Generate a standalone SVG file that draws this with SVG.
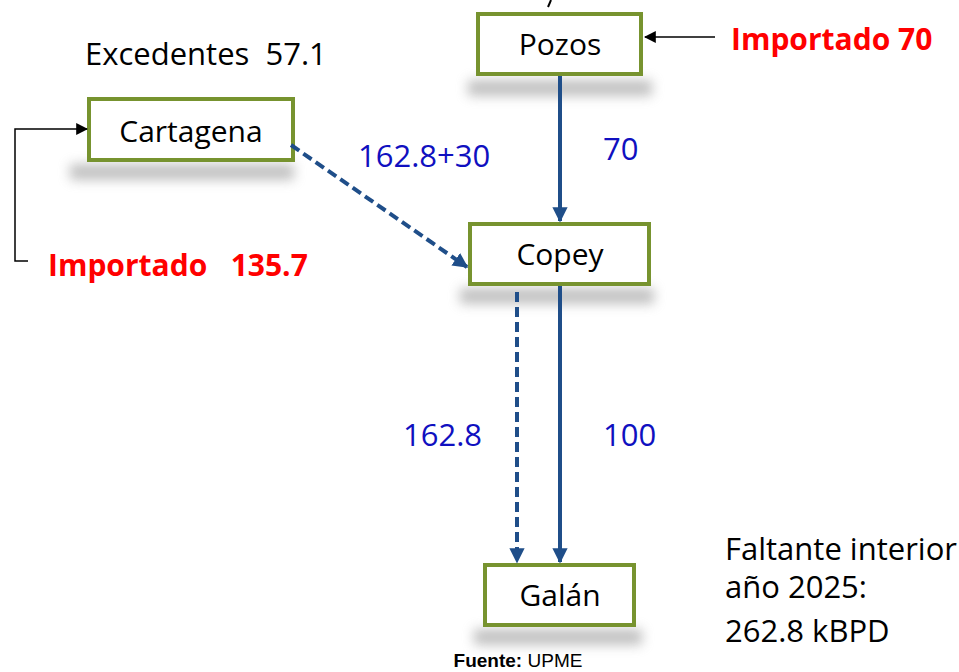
<svg xmlns="http://www.w3.org/2000/svg" width="959" height="672" viewBox="0 0 959 672">
<defs>
<filter id="sh" x="-30%" y="-100%" width="160%" height="300%"><feGaussianBlur stdDeviation="6"/></filter>
<marker id="ab" viewBox="0 0 10 10" refX="9" refY="5" markerWidth="3.8" markerHeight="4" orient="auto"><path d="M0,0 L10,5 L0,10 z" fill="#1F4E89"/></marker>
<marker id="ak" viewBox="0 0 10 10" refX="9" refY="5" markerWidth="8" markerHeight="8" orient="auto"><path d="M0,0 L10,5 L0,10 z" fill="#000"/></marker>
</defs>
<style>
.box{fill:#fff;stroke:#77932F;stroke-width:4}
.shd{fill:#999;opacity:0.6;filter:url(#sh)}
.lbl{font-family:"Open Sans","Liberation Sans",sans-serif;font-size:30px;fill:#000;text-anchor:middle}
.blue{font-family:"Open Sans","Liberation Sans",sans-serif;font-size:31px;fill:#1010C0}
.red{font-family:"Open Sans","Liberation Sans",sans-serif;font-size:30px;font-weight:bold;fill:#FF0000}
.blk{font-family:"Open Sans","Liberation Sans",sans-serif;font-size:31px;fill:#000}
.flow{stroke:#1F4E89;stroke-width:4;fill:none;marker-end:url(#ab)}
.dash{stroke-dasharray:10,5}
.imp{stroke:#000;stroke-width:1.5;fill:none;marker-end:url(#ak)}
</style>
<rect width="959" height="672" fill="#fff"/>
<path d="M551,0 L548,7" stroke="#000" stroke-width="2"/>
<g id="pozos"><rect class="shd" x="468" y="80" width="184" height="16"/><rect class="box" x="478" y="14" width="163" height="60"/><text class="lbl" x="560" y="55">Pozos</text></g>
<g id="cartagena"><rect class="shd" x="70" y="164" width="224" height="16"/><rect class="box" x="89" y="99" width="204" height="61"/><text class="lbl" x="191" y="142">Cartagena</text></g>
<g id="copey"><rect class="shd" x="460" y="288" width="194" height="16"/><rect class="box" x="470" y="224" width="179" height="60"/><text class="lbl" x="560" y="265">Copey</text></g>
<g id="galan"><rect class="shd" x="474" y="629" width="168" height="16"/><rect class="box" x="485" y="565" width="149" height="60"/><text class="lbl" x="560" y="606">Galán</text></g>
<g id="connectors">
<line class="flow" x1="560" y1="76" x2="560" y2="221"/>
<line class="flow dash" x1="291" y1="145" x2="467" y2="267"/>
<line class="flow" x1="560" y1="286" x2="560" y2="562"/>
<line class="flow dash" x1="517" y1="292" x2="517" y2="562"/>
<line class="imp" x1="715" y1="37" x2="645" y2="37"/>
<polyline class="imp" points="28,261 15,261 15,129 87,129"/>
</g>
<text class="blk" x="85" y="65" xml:space="preserve">Excedentes  57.1</text>
<text class="blue" x="358" y="167">162.8+30</text>
<text class="blue" x="603" y="160">70</text>
<text class="blue" x="403" y="446">162.8</text>
<text class="blue" x="603" y="446">100</text>
<text class="red" x="731" y="50">Importado 70</text>
<text class="red" x="48" y="276" xml:space="preserve">Importado   135.7</text>
<text class="blk" x="725" y="560">Faltante interior</text>
<text class="blk" x="725" y="598">año 2025:</text>
<text class="blk" x="725" y="642">262.8 kBPD</text>
<text x="518" y="667" text-anchor="middle" style="font-family:'Liberation Sans',Arial,sans-serif;font-size:19px"><tspan font-weight="bold">Fuente:</tspan> UPME</text>
</svg>
